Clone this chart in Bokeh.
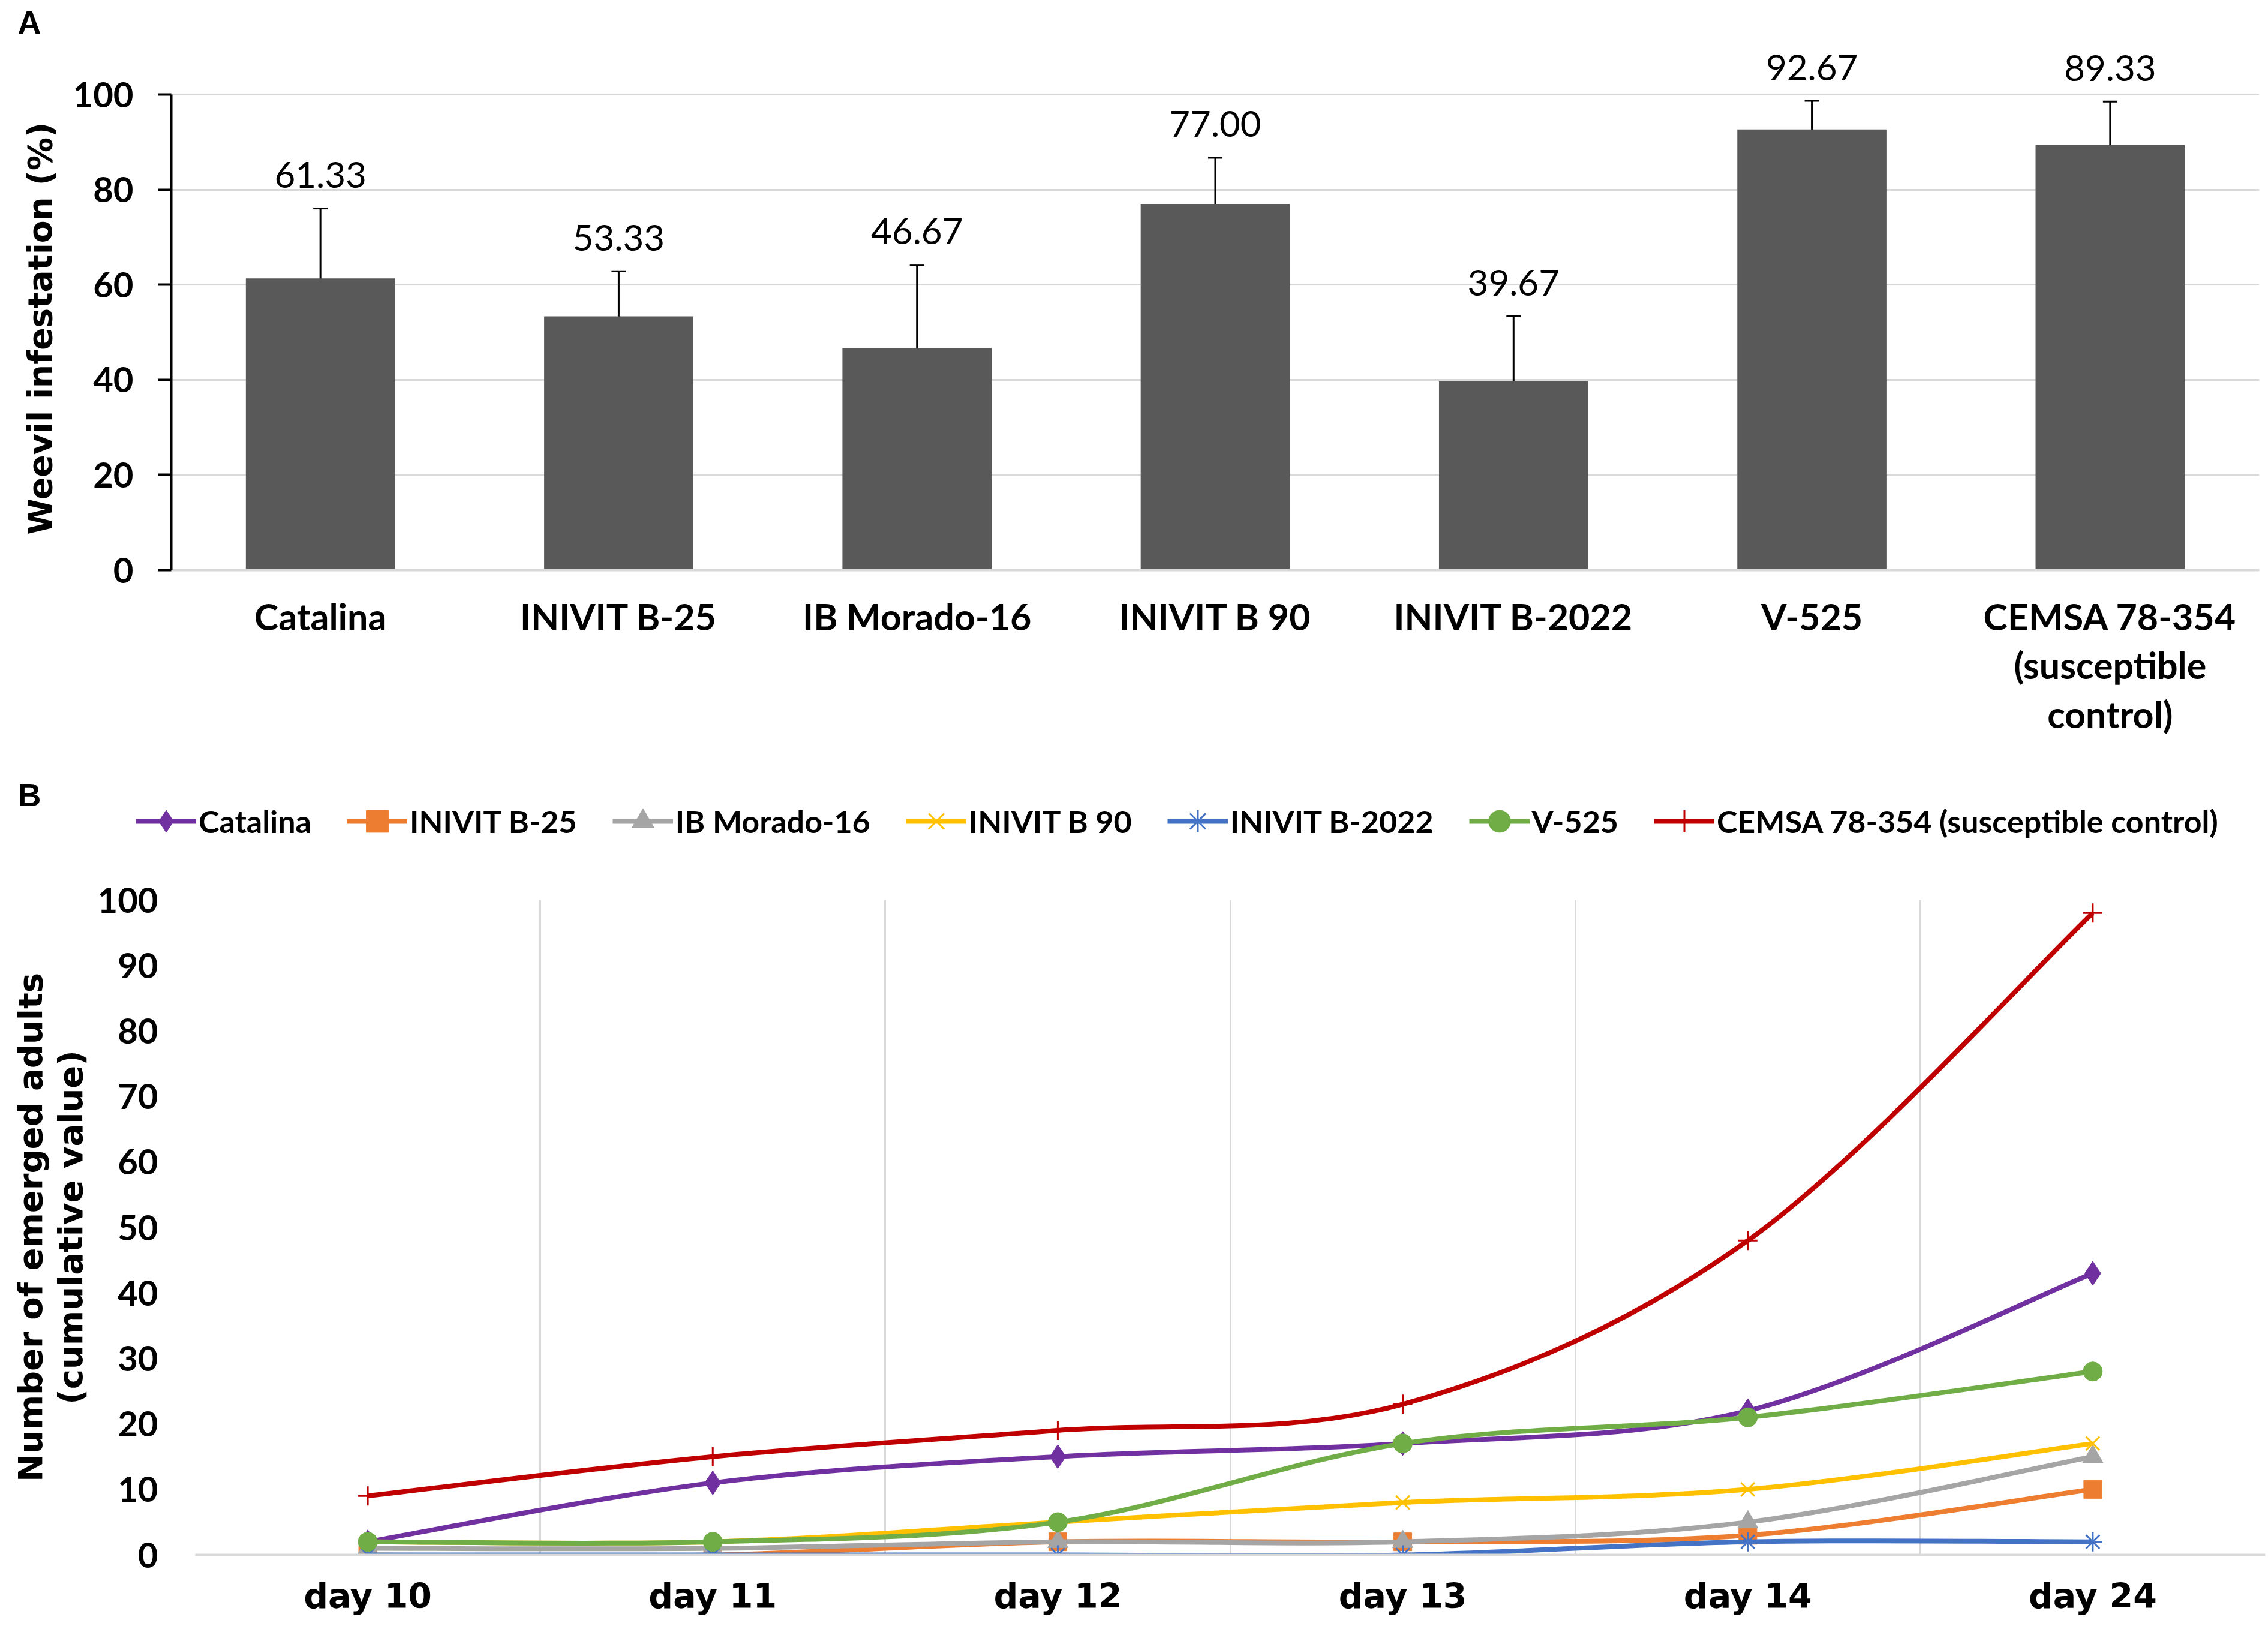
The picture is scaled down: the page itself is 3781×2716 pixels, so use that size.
import numpy as np
from bokeh.plotting import figure
from bokeh.layouts import column
from bokeh.models import (ColumnDataSource, FixedTicker, LabelSet, Label, Legend,
                          LegendItem, Range1d, Whisker, TeeHead)
from bokeh.embed import file_html
from bokeh.resources import INLINE
from bokeh.core.properties import value

# ---------------- Panel A data ----------------
cultivars = ["Catalina", "INIVIT B-25", "IB Morado-16", "INIVIT B 90",
             "INIVIT B-2022", "V-525", "CEMSA 78-354\n(susceptible\ncontrol)"]
infestation = [61.33, 53.33, 46.67, 77.00, 39.67, 92.67, 89.33]
infestation_err = [14.7, 9.5, 17.5, 9.7, 13.7, 6.0, 9.2]
a_ticks = [0, 20, 40, 60, 80, 100]

# ---------------- Panel B data ----------------
days = ["day 10", "day 11", "day 12", "day 13", "day 14", "day 24"]
series_names = ["Catalina", "INIVIT B-25", "IB Morado-16", "INIVIT B 90",
                "INIVIT B-2022", "V-525", "CEMSA 78-354 (susceptible control)"]
catalina = [2, 11, 15, 17, 22, 43]
inivit_b25 = [0, 0, 2, 2, 3, 10]
ib_morado16 = [1, 1, 2, 2, 5, 15]
inivit_b90 = [2, 2, 5, 8, 10, 17]
inivit_b2022 = [0, 0, 0, 0, 2, 2]
v525 = [2, 2, 5, 17, 21, 28]
cemsa = [9, 15, 19, 23, 48, 98]
b_ticks = [0, 10, 20, 30, 40, 50, 60, 70, 80, 90, 100]

series_values = [catalina, inivit_b25, ib_morado16, inivit_b90, inivit_b2022, v525, cemsa]
series_colors = ["#7030A0", "#ED7D31", "#A5A5A5", "#FFC000", "#4472C4", "#70AD47", "#C00000"]
series_markers = ["diamond", "square", "triangle", "x", "asterisk", "circle", "cross"]
marker_sizes = [40, 30, 34, 32, 32, 32, 32]

# ---------------- layout constants (px) ----------------
W = 3778
HA, HL, HB = 1292, 154, 1268
A_left, A_right, A_bottom = 285, 12, 342
A_y100 = 157
A_frame_top = 68
B_left, B_right, B_top, B_bottom = 325, 2, 54, 122
STRIP_X0 = 10000      # legend strip coordinates start here (series data lie off-strip)

BOLD_NUM = "Lato"
WIDE = "DejaVu Sans"
NBSP = "\u00a0"

# ================= Panel A =================
nA = len(cultivars)
ppuA = (HA - A_bottom - A_y100) / 100.0
yA_end = 100 + (A_y100 - A_frame_top) / ppuA
pa = figure(width=W, height=HA, output_backend="svg", toolbar_location=None,
            x_range=Range1d(-0.5, nA - 0.5), y_range=Range1d(0, yA_end),
            min_border_left=A_left, min_border_right=A_right,
            min_border_top=A_frame_top, min_border_bottom=A_bottom)
pa.frame_align = False
pa.outline_line_color = None

xa = np.arange(nA)
vals = np.array(infestation)
errs = np.array(infestation_err)
srcA = ColumnDataSource(dict(x=xa, top=vals, upper=vals + errs, lower=vals - errs,
                             label=["%.2f" % v for v in infestation]))

pa.vbar(x="x", top="top", width=0.5, source=srcA, fill_color="#595959", line_color=None)
pa.add_layout(Whisker(base="x", upper="upper", lower="lower", source=srcA,
                      line_color="black", line_width=3,
                      upper_head=TeeHead(size=24, line_color="black", line_width=3),
                      lower_head=TeeHead(size=24, line_color="black", line_width=3)))
pa.add_layout(LabelSet(x="x", y="upper", text="label", source=srcA, y_offset=56,
                       text_align="center", text_baseline="middle",
                       text_font=value(BOLD_NUM), text_font_size="60px",
                       text_color="#000000"))

pa.xgrid.visible = False
pa.ygrid.ticker = FixedTicker(ticks=a_ticks[1:])
pa.ygrid.grid_line_color = "#D9D9D9"
pa.ygrid.grid_line_width = 3

pa.xaxis.ticker = FixedTicker(ticks=list(xa))
pa.xaxis.major_label_overrides = {int(i): c for i, c in zip(xa, cultivars)}
pa.xaxis.axis_line_color = "#D9D9D9"
pa.xaxis.axis_line_width = 4
pa.xaxis.major_tick_line_color = None
pa.xaxis.minor_tick_line_color = None
pa.xaxis.major_label_standoff = 34
pa.xaxis.major_label_text_font = BOLD_NUM
pa.xaxis.major_label_text_font_style = "bold"
pa.xaxis.major_label_text_font_size = "61px"
pa.xaxis.major_label_text_color = "#000000"
pa.xaxis.major_label_text_line_height = 1.12

pa.yaxis.ticker = FixedTicker(ticks=a_ticks)
pa.yaxis.bounds = (0, 100)
pa.yaxis.axis_line_color = "black"
pa.yaxis.axis_line_width = 4
pa.yaxis.major_tick_line_color = "black"
pa.yaxis.major_tick_line_width = 4
pa.yaxis.major_tick_out = 22
pa.yaxis.major_tick_in = 0
pa.yaxis.minor_tick_line_color = None
pa.yaxis.minor_tick_out = 0
pa.yaxis.major_label_standoff = 41
pa.yaxis.major_label_text_font = BOLD_NUM
pa.yaxis.major_label_text_font_style = "bold"
pa.yaxis.major_label_text_font_size = "58px"
pa.yaxis.major_label_text_color = "#000000"
pa.yaxis.axis_label = "Weevil infestation (%)" + NBSP * 4
pa.yaxis.axis_label_text_font = WIDE
pa.yaxis.axis_label_text_font_style = "bold"
pa.yaxis.axis_label_text_font_size = "55px"
pa.yaxis.axis_label_text_color = "#000000"
pa.yaxis.axis_label_standoff = 20

pa.title.text = "A"
pa.title.align = "left"
pa.title.vertical_align = "top"
pa.title.offset = 29 - A_left
pa.title.standoff = 0
pa.title.text_font = "Liberation Sans"
pa.title.text_font_style = "bold"
pa.title.text_font_size = "54px"
pa.title.text_color = "#000000"

# ---------------- smoothed curve pieces for panel B ----------------
nB = len(days)
xb = np.arange(nB, dtype=float)
curves = []
for vals_s in series_values:
    y = np.array(vals_s, dtype=float)
    # Catmull-Rom style control points -> smooth bezier segments through the data points
    xp = np.concatenate([[xb[0]], xb, [xb[-1]]])
    yp = np.concatenate([[y[0]], y, [y[-1]]])
    seg = dict(x0=xb[:-1], y0=y[:-1], x1=xb[1:], y1=y[1:],
               cx0=xb[:-1] + (xp[2:-1] - xp[:-3]) / 6.0,
               cy0=y[:-1] + (yp[2:-1] - yp[:-3]) / 6.0,
               cx1=xb[1:] - (xp[3:] - xp[1:-2]) / 6.0,
               cy1=y[1:] - (yp[3:] - yp[1:-2]) / 6.0)
    curves.append((y, seg))


def draw_series(fig, y, seg, col, mk, sz):
    r_line = fig.bezier(line_color=col, line_width=8, **seg)
    if mk in ("x", "asterisk", "cross"):
        r_mk = fig.scatter(x=xb, y=y, marker=mk, size=sz, line_color=col, line_width=3,
                           fill_color=None)
    else:
        r_mk = fig.scatter(x=xb, y=y, marker=mk, size=sz, fill_color=col, line_color=col,
                           line_width=1)
    return r_line, r_mk


# ================= Legend strip (panel B label + legend) =================
pl = figure(width=W, height=HL, output_backend="svg", toolbar_location=None,
            x_range=Range1d(STRIP_X0, STRIP_X0 + W), y_range=Range1d(0, HL),
            x_axis_type=None, y_axis_type=None, min_border=0)
pl.frame_align = False
pl.outline_line_color = None

items = []
for name, (y, seg), col, mk, sz in zip(series_names, curves, series_colors,
                                        series_markers, marker_sizes):
    r_line, r_mk = draw_series(pl, y, seg, col, mk, sz)
    items.append(LegendItem(label=name, renderers=[r_line, r_mk]))

legend = Legend(items=items, orientation="horizontal", location="left", margin=226,
                glyph_width=101, glyph_height=92, label_standoff=4, spacing=59,
                padding=0, border_line_color=None, background_fill_alpha=0,
                label_text_font=BOLD_NUM, label_text_font_style="bold",
                label_text_font_size="52px", label_text_color="#000000")
pl.add_layout(legend, "center")
pl.add_layout(Label(x=STRIP_X0 + 29, y=HL - 32, text="B", text_font="Liberation Sans",
                    text_font_style="bold", text_font_size="54px",
                    text_baseline="middle", text_align="left", text_color="#000000"))

# ================= Panel B =================
pb = figure(width=W, height=HB, output_backend="svg", toolbar_location=None,
            x_range=Range1d(-0.5, nB - 0.5), y_range=Range1d(0, 100),
            min_border_left=B_left, min_border_right=B_right,
            min_border_top=B_top, min_border_bottom=B_bottom)
pb.frame_align = False
pb.outline_line_color = None

for (y, seg), col, mk, sz in zip(curves, series_colors, series_markers, marker_sizes):
    draw_series(pb, y, seg, col, mk, sz)

pb.ygrid.visible = False
pb.xgrid.ticker = FixedTicker(ticks=[i - 0.5 for i in range(nB + 1)])
pb.xgrid.grid_line_color = "#D9D9D9"
pb.xgrid.grid_line_width = 3

pb.xaxis.ticker = FixedTicker(ticks=list(range(nB)))
pb.xaxis.major_label_overrides = {i: d for i, d in enumerate(days)}
pb.xaxis.axis_line_color = "#D9D9D9"
pb.xaxis.axis_line_width = 4
pb.xaxis.major_tick_line_color = None
pb.xaxis.minor_tick_line_color = None
pb.xaxis.major_label_standoff = 29
pb.xaxis.major_label_text_font = WIDE
pb.xaxis.major_label_text_font_style = "bold"
pb.xaxis.major_label_text_font_size = "57px"
pb.xaxis.major_label_text_color = "#000000"
pb.xaxis.major_label_text_line_height = 1.0

pb.yaxis.ticker = FixedTicker(ticks=b_ticks)
pb.yaxis.axis_line_color = None
pb.yaxis.major_tick_line_color = None
pb.yaxis.minor_tick_line_color = None
pb.yaxis.major_label_standoff = 56
pb.yaxis.major_label_text_font = BOLD_NUM
pb.yaxis.major_label_text_font_style = "bold"
pb.yaxis.major_label_text_font_size = "58px"
pb.yaxis.major_label_text_color = "#000000"
pb.yaxis.axis_label = "Number of emerged adults\n(cumulative value)"
pb.yaxis.axis_label_text_font = WIDE
pb.yaxis.axis_label_text_font_style = "bold"
pb.yaxis.axis_label_text_font_size = "56px"
pb.yaxis.axis_label_text_color = "#000000"
pb.yaxis.axis_label_text_line_height = 1.02
pb.yaxis.axis_label_standoff = 10

layout = column(pa, pl, pb, spacing=0)
open("out.html", "w").write(file_html(layout, INLINE))
